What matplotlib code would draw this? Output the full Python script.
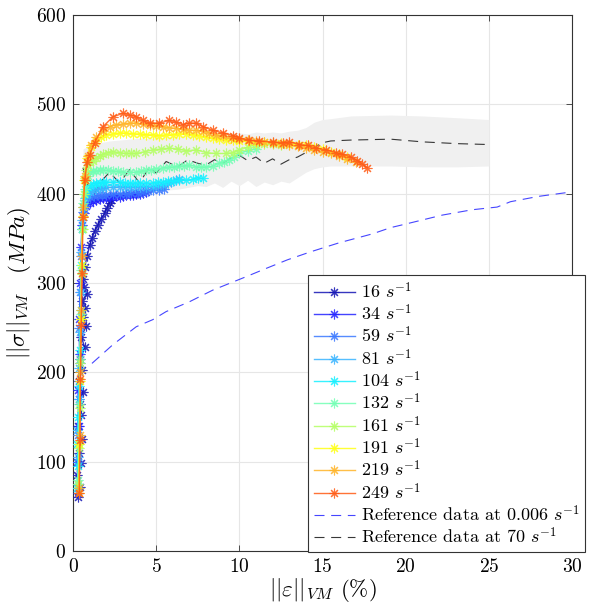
import matplotlib
matplotlib.use("Agg")
import matplotlib.pyplot as plt

plt.rcParams['font.family'] = ['cmr10', 'DejaVu Serif']
plt.rcParams['mathtext.fontset'] = 'cm'
plt.rcParams['axes.unicode_minus'] = False
plt.rcParams['axes.formatter.use_mathtext'] = True

# ---------------- data ----------------
rate_labels = ['16', '34', '59', '81', '104', '132', '161', '191', '219', '249']
colors = ['#1414b4', '#2323ff', '#3a78ff', '#38b4ff', '#14f0ff',
          '#72ffb4', '#b4ff64', '#ffff14', '#ffb428', '#ff5a14']

eps_16 = [0.30, 0.45, 0.25, 0.50, 0.35, 0.55, 0.30, 0.50, 0.40, 0.60, 0.35, 0.55, 0.45, 0.70,
          0.50, 0.80, 0.60, 0.75, 0.55, 0.85, 0.65, 0.60, 0.70, 0.85, 1.00, 1.15, 1.30, 1.50,
          1.70, 1.90, 2.05, 2.20, 2.30]
sig_16 = [60, 72, 85, 98, 110, 125, 140, 152, 165, 178, 190, 203, 215, 228,
          240, 252, 262, 272, 280, 288, 295, 305, 318, 330, 342, 350, 358, 365,
          372, 378, 384, 390, 393]

eps_34 = [0.30, 0.25, 0.35, 0.30, 0.40, 0.38, 0.45, 0.50, 0.55, 0.65, 0.80, 1.00, 1.20, 1.40,
          1.60, 1.80, 2.00, 2.20, 2.40, 2.60, 2.80, 3.00, 3.20, 3.40, 3.60, 3.80, 4.00, 4.20, 4.40]
sig_34 = [65, 100, 140, 180, 220, 260, 300, 340, 365, 378, 386, 390, 392, 393,
          394, 395, 395, 396, 396, 397, 396, 397, 398, 398, 399, 400, 400, 401, 402]

eps_59 = [0.30, 0.33, 0.28, 0.36, 0.40, 0.38, 0.43, 0.47, 0.52, 0.60, 0.70, 0.85, 1.00, 1.25,
          1.50, 1.75, 2.00, 2.40, 2.80, 3.20, 3.50, 3.90, 4.20, 4.50, 4.80, 5.20, 5.50]
sig_59 = [70, 100, 130, 170, 210, 250, 290, 330, 360, 380, 390, 395, 396, 397,
          398, 398, 399, 400, 400, 400, 401, 401, 402, 403, 404, 404, 405]

eps_81 = [0.28, 0.32, 0.26, 0.35, 0.38, 0.42, 0.46, 0.50, 0.57, 0.65, 0.75, 0.85, 1.00, 1.20,
          1.40, 1.60, 1.80, 2.00, 2.40, 2.80, 3.10, 3.40, 3.70, 4.00, 4.40, 4.80, 5.10, 5.40,
          5.70, 5.90, 6.20, 6.40]
sig_81 = [75, 105, 135, 170, 205, 245, 290, 335, 370, 385, 395, 400, 402, 404,
          405, 406, 406, 407, 407, 408, 408, 408, 408, 408, 408, 408, 409, 410,
          412, 413, 415, 416]

eps_104 = [0.25, 0.30, 0.27, 0.33, 0.38, 0.42, 0.46, 0.50, 0.55, 0.62, 0.70, 0.80, 0.90, 1.05,
           1.20, 1.40, 1.60, 1.80, 2.00, 2.40, 2.80, 3.10, 3.40, 3.70, 4.00, 4.40, 4.80, 5.10,
           5.40, 5.70, 6.00, 6.40, 6.80, 7.20, 7.50, 7.80]
sig_104 = [70, 95, 120, 150, 185, 225, 270, 320, 360, 385, 400, 405, 408, 410,
           411, 412, 412, 413, 413, 413, 413, 412, 412, 412, 412, 412, 412, 413,
           413, 414, 414, 415, 415, 416, 418, 417]

eps_132 = [0.30, 0.34, 0.38, 0.42, 0.46, 0.50, 0.55, 0.62, 0.70, 0.80, 0.90, 1.00, 1.20, 1.40,
           1.60, 1.80, 2.10, 2.40, 2.70, 3.00, 3.40, 3.80, 4.10, 4.40, 4.70, 5.00, 5.40, 5.80,
           6.10, 6.40, 6.70, 7.00, 7.40, 7.70, 8.00, 8.40, 8.80, 9.10, 9.40, 9.70, 10.00,
           10.50, 11.00]
sig_132 = [80, 120, 165, 215, 265, 315, 360, 390, 405, 414, 420, 424, 425, 425,
           426, 426, 426, 425, 425, 424, 424, 424, 425, 426, 427, 428, 429, 430,
           430, 431, 431, 432, 430, 430, 430, 431, 434, 436, 438, 441, 445,
           448, 450]

eps_161 = [0.32, 0.36, 0.40, 0.44, 0.48, 0.52, 0.58, 0.65, 0.72, 0.80, 0.90, 1.00, 1.20, 1.40,
           1.60, 1.80, 2.10, 2.40, 2.80, 3.20, 3.50, 3.80, 4.30, 4.80, 5.30, 5.80, 6.30,
           6.80, 7.40, 8.00, 8.60, 9.20, 9.60, 10.00, 10.50, 11.00, 11.50, 12.00, 12.50]
sig_161 = [75, 115, 160, 210, 260, 310, 360, 400, 418, 426, 432, 435, 437, 440,
           442, 444, 446, 447, 446, 445, 445, 445, 447, 449, 450, 451, 450,
           448, 449, 446, 445, 445, 446, 449, 452, 455, 456, 456, 455]

eps_191 = [0.35, 0.39, 0.43, 0.47, 0.52, 0.58, 0.68, 0.85, 1.10, 1.40, 1.70, 2.00, 2.40, 2.80,
           3.20, 3.60, 4.00, 4.40, 4.80, 5.20, 5.60, 6.00, 6.40, 6.80, 7.20, 7.60, 8.00,
           8.40, 8.80, 9.20, 9.60, 10.00, 10.50, 11.00, 11.50, 12.00, 12.50, 13.00, 13.50,
           14.00, 14.50, 15.00, 15.50, 16.00, 16.50]
sig_191 = [65, 120, 190, 260, 320, 375, 415, 440, 452, 459, 463, 466, 467, 468,
           468, 467, 467, 466, 466, 465, 466, 466, 467, 467, 466, 465, 463,
           462, 461, 460, 460, 459, 459, 458, 458, 457, 457, 456, 455,
           454, 452, 450, 447, 444, 441]

eps_219 = [0.36, 0.40, 0.44, 0.48, 0.53, 0.60, 0.70, 0.90, 1.10, 1.40, 1.80, 2.20, 2.60, 3.00,
           3.40, 3.80, 4.20, 4.60, 5.00, 5.40, 5.80, 6.20, 6.60, 7.00, 7.40, 7.80, 8.20,
           8.60, 9.00, 9.50, 10.00, 10.50, 11.00, 11.50, 12.00, 12.50, 13.00, 13.50, 14.00,
           14.50, 15.00, 15.50, 16.00, 16.50, 17.00]
sig_219 = [70, 130, 200, 270, 330, 385, 420, 442, 455, 463, 470, 475, 477, 478,
           479, 479, 478, 477, 476, 475, 474, 473, 472, 471, 471, 470, 468,
           466, 464, 462, 461, 460, 459, 458, 457, 456, 455, 453, 451,
           449, 447, 445, 442, 439, 435]

eps_249 = [0.38, 0.42, 0.45, 0.50, 0.55, 0.60, 0.70, 0.85, 1.00, 1.30, 1.80, 2.40, 3.00, 3.40,
           3.80, 4.20, 4.60, 5.20, 5.80, 6.20, 6.60, 7.00, 7.40, 7.80, 8.40, 9.00, 9.60,
           10.00, 10.60, 11.20, 12.00, 12.60, 13.00, 13.60, 14.10, 14.60, 15.20, 15.80,
           16.20, 16.70, 17.10, 17.40, 17.70]
sig_249 = [65, 124, 193, 253, 311, 374, 415, 435, 443, 457, 475, 486, 490, 488,
           486, 482, 479, 479, 482, 480, 477, 479, 479, 475, 471, 468, 465,
           462, 460, 459, 458, 457, 458, 455, 454, 451, 449, 446,
           444, 441, 437, 433, 429]

curves_eps = [eps_16, eps_34, eps_59, eps_81, eps_104, eps_132, eps_161, eps_191, eps_219, eps_249]
curves_sig = [sig_16, sig_34, sig_59, sig_81, sig_104, sig_132, sig_161, sig_191, sig_219, sig_249]

# reference at 0.006 s^-1
ref1_eps = [1.14, 2.4, 3.8, 4.8, 5.6, 7.0, 8.4, 9.6, 10.4, 11.7, 12.9, 14.3, 16.0, 18.0,
            19.1, 20.0, 22.2, 24.0, 25.5, 26.3, 28.0, 30.0]
ref1_sig = [210, 231, 251, 259, 268, 279, 292, 301, 307, 317, 326, 335, 345, 355,
            362, 366, 376, 382, 385, 391, 397, 402]

# reference at 70 s^-1 (mean with band)
ref2_eps = [0.6, 1.0, 1.2, 1.6, 2.2, 2.8, 3.4, 4.0, 4.6, 5.0, 5.6, 6.3, 6.9, 7.5, 8.0, 8.5,
            9.0, 9.5, 10.0, 10.5, 11.0, 11.5, 12.0, 12.5, 13.0, 13.5, 14.0, 14.5, 15.0,
            15.5, 16.7, 19.1, 21.0, 23.1, 25.0]
ref2_sig = [429, 401, 396, 412, 424, 412, 427, 412, 430, 423, 436, 430, 438, 434, 432, 438,
            434, 440, 443, 437, 441, 434, 439, 433, 438, 441, 446, 452, 457,
            459, 460, 461, 458, 456, 455]
band_top = [450, 454, 455, 457, 459, 460, 461, 462, 462, 463, 463, 464, 465, 466, 466, 467,
            467, 468, 468, 467, 469, 468, 469, 468, 470, 471, 474, 480, 483,
            484, 487, 488, 487, 485, 483]
band_bot = [398, 393, 391, 391, 392, 393, 395, 398, 400, 402, 404, 405, 407, 409, 408, 412,
            407, 414, 409, 415, 408, 413, 410, 414, 412, 418, 424, 428, 430,
            431, 431, 431, 430, 430, 431]

# ---------------- figure ----------------
W, H = 596, 611
fig = plt.figure(figsize=(W / 100, H / 100), dpi=100)
ax = fig.add_axes([73 / W, 1 - 551 / H, (572 - 73) / W, (551 - 15) / H])

ax.fill_between(ref2_eps, band_bot, band_top, color='#f0f0f0', lw=0, zorder=1)

handles = []
for e, s, c, lab in zip(curves_eps, curves_sig, colors, rate_labels):
    ln, = ax.plot(e, s, color=c, lw=1.0, marker=(8, 2, 0), ms=7, mew=0.8,
                  alpha=0.85, zorder=3, label=lab + r' $s^{-1}$')
    handles.append(ln)

r1, = ax.plot(ref1_eps, ref1_sig, color='#3232ff', lw=0.8, dashes=(9, 6), alpha=0.9,
              zorder=2, label=r'Reference data at 0.006 $s^{-1}$')
r2, = ax.plot(ref2_eps, ref2_sig, color='#222222', lw=0.8, dashes=(9, 6), alpha=0.9,
              zorder=2, label=r'Reference data at 70 $s^{-1}$')
handles += [r1, r2]

ax.set_xlim(0, 30)
ax.set_ylim(0, 600)
ax.set_xticks([0, 5, 10, 15, 20, 25, 30])
ax.set_yticks([0, 100, 200, 300, 400, 500, 600])
ax.grid(True, color='#e6e6e6', lw=0.8)
ax.set_axisbelow(True)
for sp in ax.spines.values():
    sp.set_color('#333333')
    sp.set_linewidth(0.8)
ax.tick_params(direction='in', length=4, width=0.6, color='#333333',
               labelsize=14, top=True, right=True, pad=5)
ax.set_xlabel(r'$||\varepsilon||_{VM}$ (%)', fontsize=16.5, labelpad=0)
ax.set_ylabel(r'$||\sigma||_{VM}\quad(MPa)$', fontsize=16.5, labelpad=2)

leg = fig.legend(handles=handles, loc='lower right',
                 bbox_to_anchor=(585 / W, 1 - 552 / H), bbox_transform=fig.transFigure,
                 borderaxespad=0, fontsize=13, fancybox=False, framealpha=1,
                 edgecolor='#333333', handlelength=2.3, labelspacing=0.1,
                 handletextpad=0.3, borderpad=0.3)
leg.get_frame().set_linewidth(0.8)

fig.savefig('out.png', dpi=100)
